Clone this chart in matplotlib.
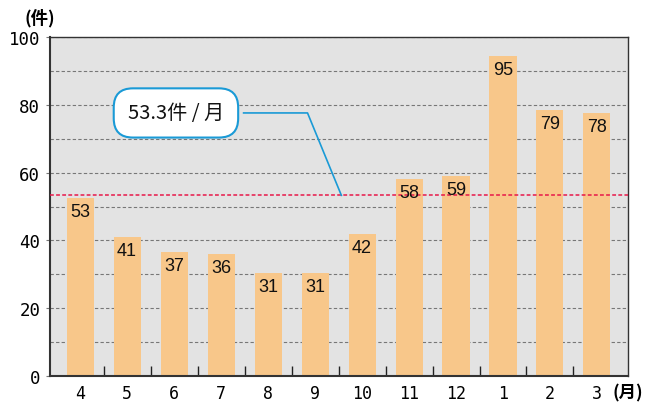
import matplotlib.pyplot as plt
import numpy as np

months = ['4', '5', '6', '7', '8', '9', '10', '11', '12', '1', '2', '3']
counts = [53, 41, 37, 36, 31, 31, 42, 58, 59, 95, 79, 78]
bar_tops = [52.5, 41, 36.5, 36, 30.5, 30.5, 42, 58, 59, 94.5, 78.5, 77.5]
mean_val = 53.3
mean_label = '53.3件 / 月'

plt.rcParams['font.family'] = ['Noto Sans CJK JP', 'DejaVu Sans']

fig = plt.figure(figsize=(6.53, 4.06), dpi=100)
ax = fig.add_axes([0.0766, 0.0714, 0.8851, 0.835])
ax.set_facecolor('#e3e3e3')

x = np.arange(len(months))
ax.bar(x, bar_tops, width=0.575, color='#f8c78a', zorder=2)
for xi, v, t in zip(x, counts, bar_tops):
    ax.text(xi, t - 4.0, str(v), ha='center', va='center', fontsize=13,
            family='Liberation Sans', color='#111111', zorder=4)

ax.axhline(mean_val, color='#e8184a', linestyle=(0, (2.5, 1.5)), linewidth=1.1, zorder=3)

ax.set_xlim(-0.64, 11.66)
ax.set_ylim(0, 100)
ax.set_yticks(np.arange(0, 101, 20))
ax.set_yticks(np.arange(10, 100, 20), minor=True)
ax.grid(axis='y', which='both', color='#777777', linestyle=(0, (3, 2)), linewidth=0.8, zorder=1)

ax.set_xticks(x)
ax.set_xticklabels(months, family='DejaVu Sans Mono', fontsize=12)
ax.set_xticks(x[:-1] + 0.5, minor=True)
ax.tick_params(axis='x', which='major', length=0, pad=6)
ax.tick_params(axis='x', which='minor', direction='in', length=7, width=1, color='#222222')
ax.tick_params(axis='y', which='major', length=3, width=0.8, color='#777777', labelsize=12.5, pad=4)
ax.tick_params(axis='y', which='minor', length=0)
for lab in ax.get_yticklabels():
    lab.set_family('DejaVu Sans Mono')

for side in ['left', 'bottom']:
    ax.spines[side].set_color('#333333')
    ax.spines[side].set_linewidth(1.5)
for side in ['top', 'right']:
    ax.spines[side].set_color('#333333')
    ax.spines[side].set_linewidth(1.0)

# callout for the monthly average
ax.plot([3.48, 4.84, 5.56], [77.6, 77.6, mean_val], color='#1a9ad6', linewidth=1.2, zorder=5)
ax.text(2.04, 77.6, mean_label, ha='center', va='center', fontsize=14.5, color='#111111', zorder=6,
        bbox=dict(boxstyle='round,pad=0.7,rounding_size=0.95', facecolor='white',
                  edgecolor='#1a9ad6', linewidth=1.5))

fig.text(0.038, 0.955, '(件)', ha='left', va='center', fontsize=12.5, fontweight='bold')
fig.text(0.938, 0.032, '(月)', ha='left', va='center', fontsize=12.5, fontweight='bold')

fig.savefig('out.png', dpi=100)
